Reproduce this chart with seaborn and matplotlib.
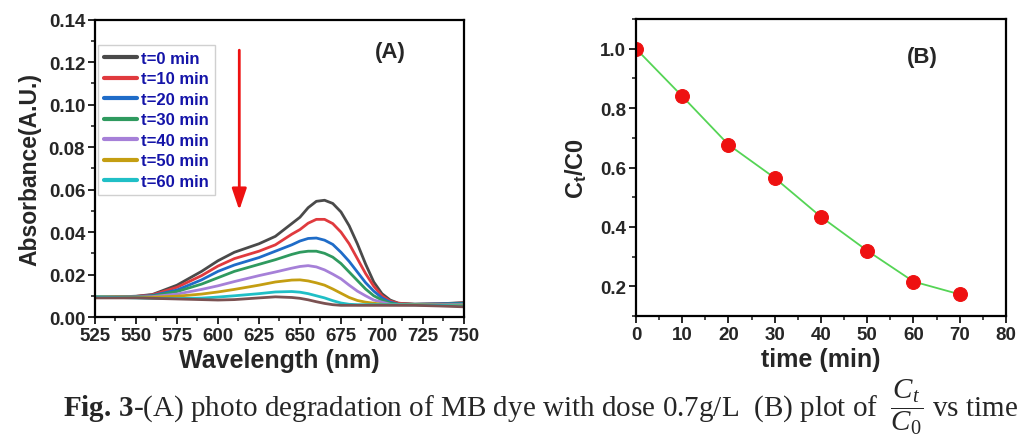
import pandas as pd
import seaborn as sns
import matplotlib.pyplot as plt
from matplotlib.ticker import MultipleLocator

# wavelength grid (nm) and absorbance spectra
wavelength = [525, 540, 550, 560, 575, 590, 600, 610, 625, 635, 645, 650, 655, 660,
              665, 670, 675, 680, 685, 690, 695, 700, 705, 710, 720, 735, 750]
abs_t0 = [0.0095, 0.0095, 0.0098, 0.0106, 0.0150, 0.0215, 0.0265, 0.0305, 0.0345, 0.0380, 0.0440, 0.0470, 0.0515, 0.0545,
          0.0550, 0.0535, 0.0495, 0.0430, 0.0345, 0.0250, 0.0165, 0.0110, 0.0080, 0.0065, 0.0060, 0.0062, 0.0068]
abs_t10 = [0.0095, 0.0095, 0.0097, 0.0104, 0.0140, 0.0195, 0.0240, 0.0275, 0.0310, 0.0340, 0.0390, 0.0412, 0.0442, 0.0460,
           0.0460, 0.0440, 0.0400, 0.0345, 0.0275, 0.0205, 0.0145, 0.0100, 0.0075, 0.0065, 0.0060, 0.0062, 0.0066]
abs_t20 = [0.0095, 0.0095, 0.0096, 0.0101, 0.0127, 0.0175, 0.0215, 0.0245, 0.0280, 0.0310, 0.0340, 0.0358, 0.0370, 0.0372,
           0.0362, 0.0342, 0.0305, 0.0262, 0.0212, 0.0162, 0.0122, 0.0090, 0.0070, 0.0060, 0.0060, 0.0062, 0.0065]
abs_t30 = [0.0095, 0.0095, 0.0095, 0.0099, 0.0120, 0.0155, 0.0185, 0.0215, 0.0248, 0.0270, 0.0295, 0.0305, 0.0310, 0.0310,
           0.0300, 0.0282, 0.0252, 0.0212, 0.0172, 0.0132, 0.0100, 0.0080, 0.0065, 0.0060, 0.0060, 0.0060, 0.0062]
abs_t40 = [0.0095, 0.0094, 0.0094, 0.0096, 0.0108, 0.0130, 0.0147, 0.0167, 0.0195, 0.0212, 0.0230, 0.0238, 0.0242, 0.0236,
           0.0222, 0.0202, 0.0180, 0.0150, 0.0122, 0.0100, 0.0080, 0.0070, 0.0060, 0.0058, 0.0058, 0.0058, 0.0058]
abs_t50 = [0.0095, 0.0094, 0.0093, 0.0093, 0.0098, 0.0108, 0.0118, 0.0130, 0.0150, 0.0165, 0.0174, 0.0175, 0.0170, 0.0161,
           0.0150, 0.0132, 0.0112, 0.0092, 0.0078, 0.0070, 0.0065, 0.0060, 0.0058, 0.0058, 0.0058, 0.0056, 0.0055]
abs_t60 = [0.0095, 0.0092, 0.0090, 0.0088, 0.0087, 0.0089, 0.0094, 0.0100, 0.0110, 0.0118, 0.0120, 0.0117, 0.0110, 0.0100,
           0.0090, 0.0077, 0.0066, 0.0060, 0.0058, 0.0058, 0.0058, 0.0058, 0.0058, 0.0058, 0.0057, 0.0055, 0.0052]
abs_t70 = [0.0090, 0.0090, 0.0090, 0.0088, 0.0085, 0.0082, 0.0080, 0.0082, 0.0090, 0.0095, 0.0092, 0.0088, 0.0081, 0.0072,
           0.0064, 0.0058, 0.0055, 0.0055, 0.0055, 0.0055, 0.0055, 0.0055, 0.0055, 0.0055, 0.0055, 0.0052, 0.0048]

spectra = [abs_t0, abs_t10, abs_t20, abs_t30, abs_t40, abs_t50, abs_t60, abs_t70]
labels = ["t=0 min", "t=10 min", "t=20 min", "t=30 min", "t=40 min", "t=50 min", "t=60 min", None]
colors = ["#4a4a4a", "#e03a3e", "#1f6cc8", "#2f9a5f", "#a680d8", "#c49e12", "#20bfc6", "#7b5252"]

# panel (B) kinetics
time_min = [0, 10, 20, 30, 40, 50, 60, 70]
ct_c0 = [1.0, 0.84, 0.677, 0.565, 0.434, 0.32, 0.216, 0.173]

sns.set_style("ticks")
plt.rcParams["font.family"] = ["Liberation Sans", "DejaVu Sans"]
plt.rcParams["mathtext.fontset"] = "custom"
plt.rcParams["mathtext.rm"] = "Liberation Serif"
plt.rcParams["mathtext.it"] = "Liberation Serif:italic"
plt.rcParams["mathtext.bf"] = "Liberation Serif:bold"
plt.rcParams["mathtext.sf"] = "Liberation Sans:bold"

fig = plt.figure(figsize=(10.19, 4.39), dpi=100)
ax1 = fig.add_axes([0.0932, 0.2756, 0.3621, 0.677])
ax2 = fig.add_axes([0.6241, 0.2779, 0.3631, 0.6765])

# (A) spectra
for vals, lab, col in zip(spectra, labels, colors):
    sns.lineplot(x=wavelength, y=vals, color=col, lw=2.0, ax=ax1,
                 label=lab if lab else "_nolegend_")

ax1.set_xlim(525, 750)
ax1.set_ylim(0, 0.14)
ax1.xaxis.set_major_locator(MultipleLocator(25))
ax1.xaxis.set_minor_locator(MultipleLocator(12.5))
ax1.yaxis.set_major_locator(MultipleLocator(0.02))
ax1.yaxis.set_minor_locator(MultipleLocator(0.01))
ax1.yaxis.set_major_formatter(plt.FormatStrFormatter("%.2f"))
ax1.set_xlabel("Wavelength (nm)", fontsize=18, fontweight="bold", labelpad=3)
ax1.set_ylabel("Absorbance(A.U.)", fontsize=16.5, fontweight="bold", labelpad=5)

leg = ax1.legend(loc="upper left", bbox_to_anchor=(0.008, 0.915), borderaxespad=0,
                 fancybox=False, edgecolor="#d0d0d0", framealpha=1,
                 prop={"weight": "bold", "size": 12}, handlelength=2.0,
                 handletextpad=0.25, labelspacing=0.33, borderpad=0.35)
for txt in leg.get_texts():
    txt.set_color("#1414a8")
for line in leg.get_lines():
    line.set_linewidth(3)

ax1.annotate("", xy=(613, 0.049), xytext=(613, 0.127),
             arrowprops=dict(arrowstyle="-|>,head_width=0.22,head_length=0.65", color="#ee1111", lw=2,
                             mutation_scale=20))
ax1.text(705, 0.125, "(A)", fontsize=16, fontweight="bold", ha="center", va="center")

# (B) Ct/C0 vs time
sns.lineplot(x=time_min, y=ct_c0, color="#55d455", lw=1.3, ax=ax2,
             marker="o", markersize=10, markerfacecolor="#ee1111", markeredgecolor="#ee1111")
ax2.set_xlim(0, 80)
ax2.set_ylim(0.1, 1.1)
ax2.xaxis.set_major_locator(MultipleLocator(10))
ax2.xaxis.set_minor_locator(MultipleLocator(5))
ax2.set_yticks([0.2, 0.4, 0.6, 0.8, 1.0])
ax2.yaxis.set_minor_locator(MultipleLocator(0.1))
ax2.yaxis.set_major_formatter(plt.FormatStrFormatter("%.1f"))
ax2.set_xlabel("time (min)", fontsize=18, fontweight="bold", labelpad=3)
ax2.set_ylabel(r"C$_\mathsf{t}$/C0", fontsize=17, fontweight="bold", labelpad=8)
ax2.text(62, 0.975, "(B)", fontsize=16, fontweight="bold", ha="center", va="center")

for ax in (ax1, ax2):
    for sp in ax.spines.values():
        sp.set_visible(True)
        sp.set_linewidth(1.6)
        sp.set_color("black")
    ax.tick_params(which="major", direction="out", length=5, width=1.4,
                   labelsize=13.5, top=False, right=False, pad=2)
    ax.tick_params(which="minor", direction="out", length=3, width=1.2, top=False, right=False)
    for lab in ax.get_xticklabels() + ax.get_yticklabels():
        lab.set_fontweight("bold")

fig.text(0.53, 0.05,
         r"$\mathbf{Fig.\,3}$-(A) photo degradation of MB dye with dose 0.7g/L  (B) plot of  $\dfrac{C_t}{C_0}$ vs time",
         family="Liberation Serif", fontsize=21, ha="center", va="baseline")

fig.savefig("out.png", dpi=100)
